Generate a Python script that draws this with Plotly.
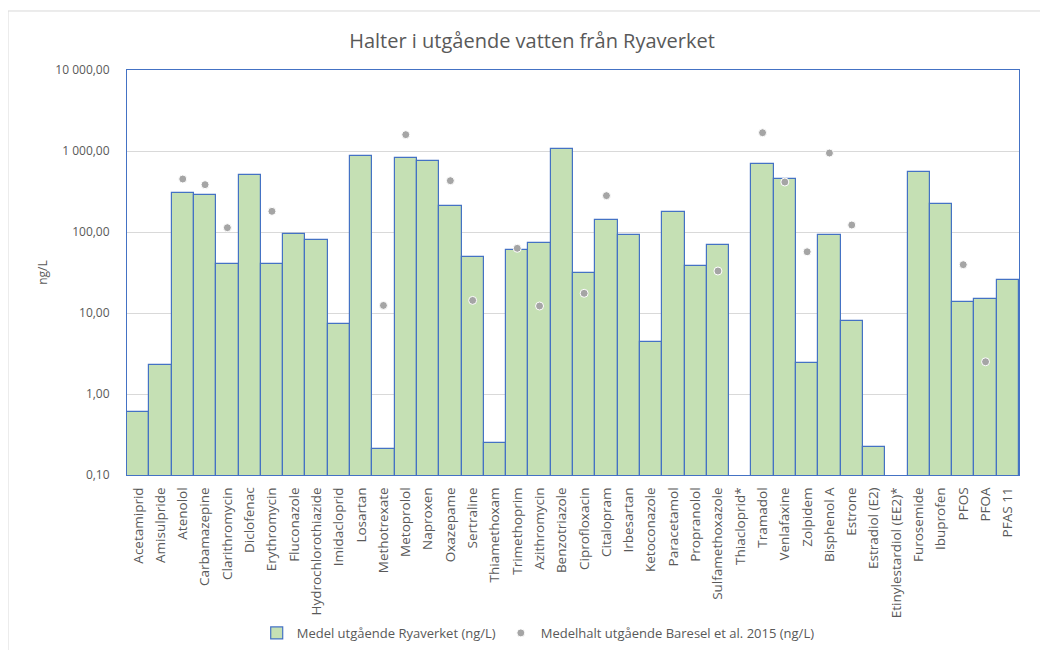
import plotly.graph_objects as go

# Ämnen (kategorier)
substances = [
    "Acetamiprid", "Amisulpride", "Atenolol", "Carbamazepine", "Clarithromycin",
    "Diclofenac", "Erythromycin", "Fluconazole", "Hydrochlorothiazide", "Imidacloprid",
    "Losartan", "Methotrexate", "Metoprolol", "Naproxen", "Oxazepame",
    "Sertraline", "Thiamethoxam", "Trimethoprim", "Azithromycin", "Benzotriazole",
    "Ciprofloxacin", "Citalopram", "Irbesartan", "Ketoconazole", "Paracetamol",
    "Propranolol", "Sulfamethoxazole", "Thiacloprid*", "Tramadol", "Venlafaxine",
    "Zolpidem", "Bisphenol A", "Estrone", "Estradiol (E2)", "Etinylestardiol (EE2)*",
    "Furosemide", "Ibuprofen", "PFOS", "PFOA", "PFAS 11",
]

# Medel utgående Ryaverket (ng/L)
ryaverket = [
    0.60, 2.28, 305, 289, 40.6,
    501, 40.6, 93.6, 80, 7.25,
    867, 0.21, 820, 745, 211,
    49.5, 0.246, 60, 73.8, 1069,
    31.2, 142, 91, 4.35, 175,
    38.4, 68.4, None, 698, 455,
    2.39, 91, 7.96, 0.22, None,
    556, 224, 13.6, 15.0, 25.3,
]

# Medelhalt utgående Baresel et al. 2015 (ng/L)
baresel = [
    None, None, 451, 384, 113,
    None, 180, None, None, None,
    None, 12.4, 1591, None, 430,
    14.3, None, 62.9, 12.2, None,
    17.5, 281, None, None, None,
    None, 33, None, 1682, 414,
    57, 944, 122, None, None,
    None, None, 39.5, 2.5, None,
]

tick_vals = [0.1, 1, 10, 100, 1000, 10000]
tick_text = ["0,10", "1,00", "10,00", "100,00", "1 000,00", "10 000,00"]

fig = go.Figure()

fig.add_trace(go.Bar(
    x=substances,
    y=ryaverket,
    name="Medel utgående Ryaverket (ng/L)",
    marker=dict(color="#C5E0B4", line=dict(color="#4472C4", width=1.2)),
))

fig.add_trace(go.Scatter(
    x=substances,
    y=baresel,
    mode="markers",
    name="Medelhalt utgående Baresel et al. 2015 (ng/L)",
    marker=dict(color="#A5A5A5", size=8, line=dict(color="white", width=1)),
))

# Ram runt diagrammet (ljusgrå)
fig.add_shape(type="line", xref="paper", yref="paper",
              x0=-0.1334, x1=1.06, y0=1.1457, y1=1.1457,
              line=dict(color="#D9D9D9", width=1))
fig.add_shape(type="line", xref="paper", yref="paper",
              x0=-0.1334, x1=-0.1334, y0=1.1457, y1=-0.47,
              line=dict(color="#D9D9D9", width=1))

fig.update_layout(
    width=1048,
    height=650,
    margin=dict(l=119, r=37, t=62, b=183, autoexpand=False),
    paper_bgcolor="white",
    plot_bgcolor="white",
    font=dict(family="Open Sans, Liberation Sans, sans-serif", color="#595959", size=12),
    title=dict(
        text="Halter i utgående vatten från Ryaverket",
        x=0.5, xanchor="center", y=0.95, yanchor="middle",
        font=dict(size=20, color="#595959"),
    ),
    bargap=0,
    showlegend=True,
    legend=dict(
        orientation="h",
        x=0.461, xanchor="center",
        y=-0.39, yanchor="middle",
        font=dict(size=13, color="#595959"),
    ),
    xaxis=dict(
        range=[-0.5, 39.5],
        tickangle=-90,
        showline=True,
        linecolor="#4472C4",
        mirror=True,
        ticks="",
        automargin=False,
        ticklabelstandoff=6,
        tickfont=dict(size=13.5, color="#595959"),
    ),
    yaxis=dict(
        type="log",
        range=[-1, 4],
        tickvals=tick_vals,
        ticktext=tick_text,
        showgrid=True,
        gridcolor="#D9D9D9",
        showline=True,
        linecolor="#4472C4",
        mirror=True,
        zeroline=False,
        automargin=False,
        ticklabelstandoff=14,
        title=dict(text="ng/L", font=dict(size=12, color="#595959"), standoff=5),
        tickfont=dict(size=12, color="#595959"),
    ),
)

fig.write_html("out.html")
